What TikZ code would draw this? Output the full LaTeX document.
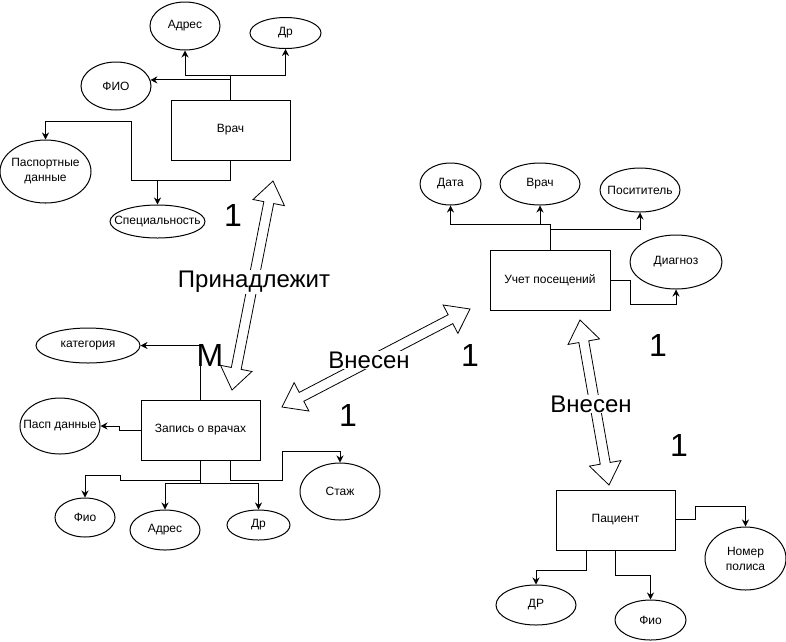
\documentclass[tikz,border=0pt]{standalone}
\usepackage{fontspec}
\setmainfont{Liberation Sans}
\usetikzlibrary{shapes.geometric,calc,arrows.meta}
\newcommand\blockarrow[2]{%
 \draw[hollow] (#1) -- ($(#1)!22pt!(#2)!16pt!90:(#2)$) -- ($(#1)!22pt!(#2)!5pt!90:(#2)$)
  -- ($(#2)!22pt!(#1)!5pt!-90:(#1)$) -- ($(#2)!22pt!(#1)!16pt!-90:(#1)$) -- (#2)
  -- ($(#2)!22pt!(#1)!16pt!90:(#1)$) -- ($(#2)!22pt!(#1)!5pt!90:(#1)$)
  -- ($(#1)!22pt!(#2)!5pt!-90:(#2)$) -- ($(#1)!22pt!(#2)!16pt!-90:(#2)$) -- cycle;}
\tikzset{
 entity/.style={draw, rectangle, inner sep=0pt, minimum width=119pt, minimum height=60pt, line width=1pt, font=\fontsize{12pt}{15pt}\selectfont},
 attr/.style 2 args={draw, ellipse, inner sep=0pt, minimum width=#1pt, minimum height=#2pt, line width=1pt},
 atext/.style={font=\fontsize{12pt}{15pt}\selectfont, align=center, inner sep=0pt},
 conn/.style={line width=1pt, -{Stealth[length=7pt,width=7pt]}},
 hollow/.style={draw, fill=white, line width=0.8pt, line join=miter},
 rel/.style={font=\fontsize{24pt}{28pt}\selectfont, fill=white, inner sep=1pt},
 card/.style={font=\fontsize{32pt}{36pt}\selectfont, inner sep=0pt}
}
\begin{document}
\begin{tikzpicture}[x=1pt,y=-1pt]
\useasboundingbox[fill=white] (0,0) rectangle (786,641);

% Врач
\node[entity] (vrach) at (230.5,130) {Врач};
\node[attr={70}{48}, label={[atext]center:Адрес}] (adres) at (185,26) {};
\node[attr={71}{31}, label={[atext]center:Др}] (dr1) at (285.5,33) {};
\node[attr={70}{48}, label={[atext]center:ФИО}] (fio) at (116,86) {};
\node[attr={91}{63}, label={[atext]center:{Паспортные\\данные}}] (pasp) at (45.5,171.5) {};
\node[attr={95}{33}, label={[atext]center:Специальность}] (spec) at (157.5,221.5) {};

\draw[conn] (vrach.north) -- ++(0,-24) -| (adres.south);
\draw[conn] ($(vrach.north)+(0,-24)$) -| (dr1.south);
\draw[conn] (vrach.north) |- (fio.10);
\draw[conn] (vrach.south) -- ++(0,20) -| (spec.north);
\draw[conn] (vrach.south) -- ++(0,20) -- ++(-99,0) -- ++(0,-59) -| (pasp.north);

% Запись о врачах
\node[entity] (zap) at (200.5,430) {Запись о врачах};
\node[attr={104}{35}, label={[atext]center:категория}] (kat) at (88,345.5) {};
\node[attr={80}{56}, label={[atext]center:Пасп данные}] (paspd) at (60,426) {};
\node[attr={60}{39}, label={[atext]center:Фио}] (fio2) at (85,517.5) {};
\node[attr={70}{40}, label={[atext]center:Адрес}] (adres2) at (165,530) {};
\node[attr={63}{30}, label={[atext]center:Др}] (dr2) at (258.5,525) {};
\node[attr={80}{57}, label={[atext]center:Стаж}] (stazh) at (340,491.5) {};

\draw[conn] (zap.north) |- (kat.east);
\draw[conn] (zap.west) -- ++(-21,0) |- (paspd.east);
\draw[conn] (zap.south) -- ++(0,20) -- ++(-80.5,0) -- ++(0,-5) -| (fio2.north);
\draw[conn] (zap.south) -- ++(0,23) -| (adres2.north);
\draw[conn] ($(zap.south)+(0,23)$) -| (dr2.north);
\draw[conn] ($(zap.south)+(29.5,0)$) -- ++(0,20) -- ++(52,0) -- ++(0,-29) -| (stazh.north);

% Учет посещений
\node[entity, minimum width=120pt] (uchet) at (550,280) {Учет посещений};
\node[attr={61}{42}, label={[atext]center:Дата}] (data) at (450.5,184) {};
\node[attr={80}{42}, label={[atext]center:Врач}] (vrach2) at (540,184) {};
\node[attr={80}{44}, label={[atext]center:Посититель}] (posit) at (640,190) {};
\node[attr={92}{54}, label={[atext]center:Диагноз}] (diag) at (676,262) {};

\draw[conn] (uchet.north) -- ++(0,-25) -| (data.south);
\draw[conn] ($(uchet.north)+(0,-25)$) -| (vrach2.south);
\draw[conn] ($(uchet.north)+(0,-20)$) -| (posit.south);
\draw[conn] (uchet.east) -- ++(20,0) -- ++(0,24) -| (diag.south);

% Пациент
\node[entity] (pac) at (615.5,520) {Пациент};
\node[attr={80}{40}, label={[atext]center:ДР}] (dr3) at (536,605) {};
\node[attr={71}{40}, label={[atext]center:Фио}] (fio3) at (650.5,620) {};
\node[attr={81}{63}, label={[atext]center:{Номер\\полиса}}] (nomer) at (745.5,558.5) {};

\draw[conn] ($(pac.south)+(-29.5,0)$) -- ++(0,20) -| (dr3.north);
\draw[conn] (pac.south) -- ++(0,25) -| (fio3.north);
\draw[conn] ($(pac.east)+(0,-1)$) -- ++(20,0) -- ++(0,-13) -| (nomer.north);

% relationship arrows
\coordinate (a1s) at (273,181);
\coordinate (a1e) at (232,390);
\coordinate (a2s) at (470,309);
\coordinate (a2e) at (282,407);
\coordinate (a3s) at (580,320);
\coordinate (a3e) at (609,485);
\blockarrow{a1s}{a1e}
\blockarrow{a2s}{a2e}
\blockarrow{a3s}{a3e}

\node[rel] (r1) at (254,282) {Принадлежит};
\node[rel] (r2) at (369,360) {Внесен};
\node[rel] (r3) at (591,404) {Внесен};

\node[card] (c1) at (233,215) {1};
\node[card] (c2) at (210,355) {M};
\node[card] (c3) at (470,355) {1};
\node[card] (c4) at (348,415) {1};
\node[card] (c5) at (658,345) {1};
\node[card] (c6) at (679,445) {1};
\end{tikzpicture}
\end{document}
